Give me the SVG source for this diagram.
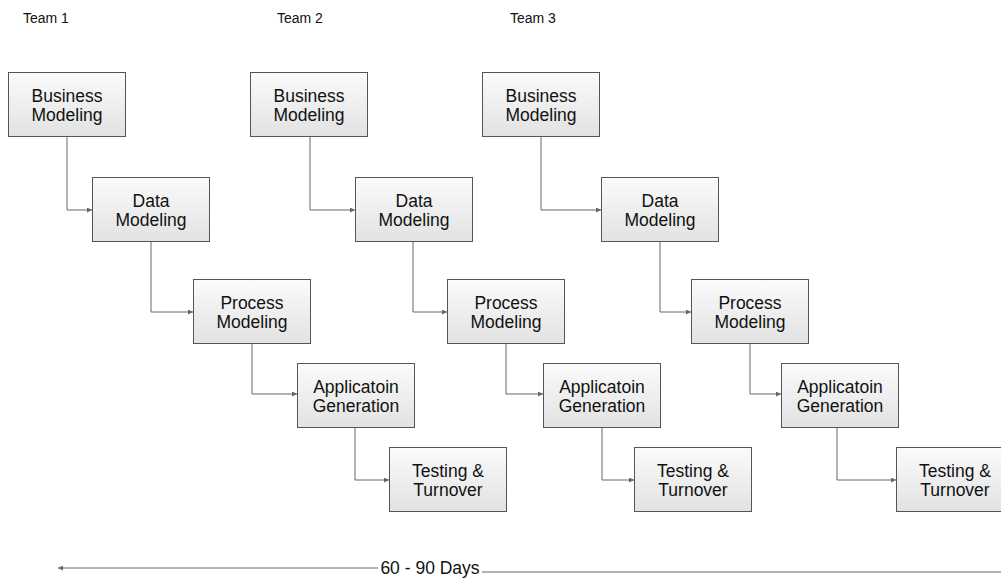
<svg xmlns="http://www.w3.org/2000/svg" width="1001" height="578" viewBox="0 0 1001 578">
  <style>
    .box { fill: url(#boxFill); stroke: #555; stroke-width: 1; }
    .lbl { font-family: "Liberation Sans", Arial, sans-serif; font-size: 17.5px; fill: #111; text-anchor: middle; }
    .team { font-family: "Liberation Sans", Arial, sans-serif; font-size: 14px; fill: #111; }
    .wire { fill: none; stroke: #666; stroke-width: 1; marker-end: url(#tip); }
  </style>
  <defs>
    <linearGradient id="boxFill" x1="0" y1="0" x2="0" y2="1">
      <stop offset="0" stop-color="#fbfbfb"/>
      <stop offset="1" stop-color="#e2e2e2"/>
    </linearGradient>
    <marker id="tip" viewBox="0 0 6 6" refX="6" refY="3" markerWidth="5" markerHeight="5" markerUnits="userSpaceOnUse" orient="auto">
      <path d="M0,0 L6,3 L0,6 z" fill="#666"/>
    </marker>
  </defs>
  <rect width="1001" height="578" fill="#fff"/>

  <text class="team" x="23" y="23">Team 1</text>
  <text class="team" x="277" y="23">Team 2</text>
  <text class="team" x="510" y="23">Team 3</text>

  <g id="connectors">
    <!-- team 1 -->
    <path class="wire" d="M67,137 V210 H92"/>
    <path class="wire" d="M151,242 V312 H193"/>
    <path class="wire" d="M252,343 V394 H297"/>
    <path class="wire" d="M355,427 V480 H389"/>
    <!-- team 2 -->
    <path class="wire" d="M310,137 V210 H355"/>
    <path class="wire" d="M413,242 V312 H447"/>
    <path class="wire" d="M506,343 V394 H543"/>
    <path class="wire" d="M602,427 V480 H634"/>
    <!-- team 3 -->
    <path class="wire" d="M541,137 V210 H601"/>
    <path class="wire" d="M660,242 V312 H691"/>
    <path class="wire" d="M750,343 V394 H781"/>
    <path class="wire" d="M837,427 V480 H896"/>
    <!-- timeline -->
    <path d="M378,568 H58" fill="none" stroke="#666" stroke-width="1" marker-end="url(#tip)"/>
    <path d="M482,572 H1001" fill="none" stroke="#666" stroke-width="1"/>
  </g>

  <text class="lbl" x="430" y="574">60 - 90 Days</text>

  <!-- team 1 -->
  <g id="t1-business"><rect class="box" x="8.5" y="72.5" width="117" height="64"/><text class="lbl" x="67" y="102">Business</text><text class="lbl" x="67" y="121">Modeling</text></g>
  <g id="t1-data"><rect class="box" x="92.5" y="177.5" width="117" height="64"/><text class="lbl" x="151" y="207">Data</text><text class="lbl" x="151" y="226">Modeling</text></g>
  <g id="t1-process"><rect class="box" x="193.5" y="279.5" width="117" height="64"/><text class="lbl" x="252" y="309">Process</text><text class="lbl" x="252" y="328">Modeling</text></g>
  <g id="t1-appgen"><rect class="box" x="297.5" y="363.5" width="117" height="64"/><text class="lbl" x="356" y="393">Applicatoin</text><text class="lbl" x="356" y="412">Generation</text></g>
  <g id="t1-testing"><rect class="box" x="389.5" y="447.5" width="117" height="64"/><text class="lbl" x="448" y="477">Testing &amp;</text><text class="lbl" x="448" y="496">Turnover</text></g>

  <!-- team 2 -->
  <g id="t2-business"><rect class="box" x="250.5" y="72.5" width="117" height="64"/><text class="lbl" x="309" y="102">Business</text><text class="lbl" x="309" y="121">Modeling</text></g>
  <g id="t2-data"><rect class="box" x="355.5" y="177.5" width="117" height="64"/><text class="lbl" x="414" y="207">Data</text><text class="lbl" x="414" y="226">Modeling</text></g>
  <g id="t2-process"><rect class="box" x="447.5" y="279.5" width="117" height="64"/><text class="lbl" x="506" y="309">Process</text><text class="lbl" x="506" y="328">Modeling</text></g>
  <g id="t2-appgen"><rect class="box" x="543.5" y="363.5" width="117" height="64"/><text class="lbl" x="602" y="393">Applicatoin</text><text class="lbl" x="602" y="412">Generation</text></g>
  <g id="t2-testing"><rect class="box" x="634.5" y="447.5" width="117" height="64"/><text class="lbl" x="693" y="477">Testing &amp;</text><text class="lbl" x="693" y="496">Turnover</text></g>

  <!-- team 3 -->
  <g id="t3-business"><rect class="box" x="482.5" y="72.5" width="117" height="64"/><text class="lbl" x="541" y="102">Business</text><text class="lbl" x="541" y="121">Modeling</text></g>
  <g id="t3-data"><rect class="box" x="601.5" y="177.5" width="117" height="64"/><text class="lbl" x="660" y="207">Data</text><text class="lbl" x="660" y="226">Modeling</text></g>
  <g id="t3-process"><rect class="box" x="691.5" y="279.5" width="117" height="64"/><text class="lbl" x="750" y="309">Process</text><text class="lbl" x="750" y="328">Modeling</text></g>
  <g id="t3-appgen"><rect class="box" x="781.5" y="363.5" width="117" height="64"/><text class="lbl" x="840" y="393">Applicatoin</text><text class="lbl" x="840" y="412">Generation</text></g>
  <g id="t3-testing"><rect class="box" x="896.5" y="447.5" width="117" height="64"/><text class="lbl" x="955" y="477">Testing &amp;</text><text class="lbl" x="955" y="496">Turnover</text></g>
</svg>
